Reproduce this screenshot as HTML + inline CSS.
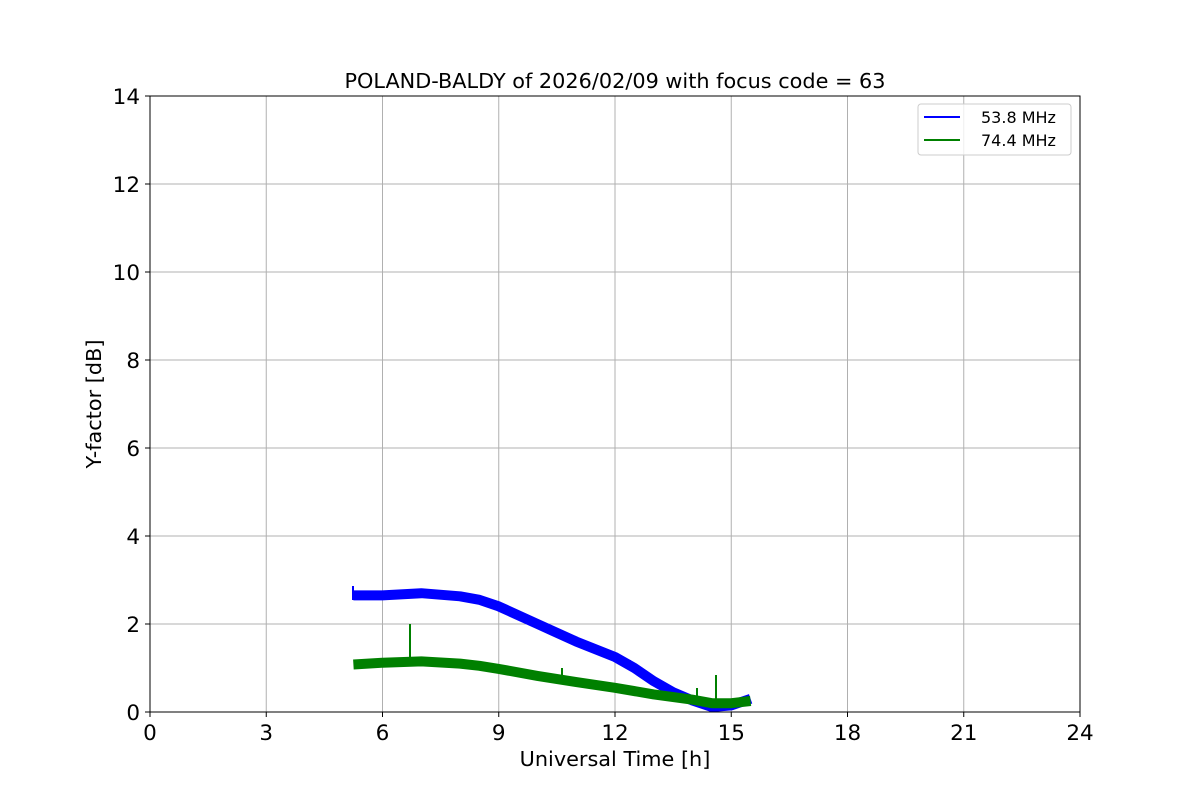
<!DOCTYPE html>
<html><head><meta charset="utf-8"><style>body{margin:0;background:#fff}</style></head><body>
<svg width="1200" height="800" xmlns="http://www.w3.org/2000/svg" font-family="DejaVu Sans, Liberation Sans, sans-serif">
<rect width="1200" height="800" fill="#fff"/>
<g stroke="#b0b0b0" stroke-width="1">
<line x1="266.25" y1="96" x2="266.25" y2="712"/><line x1="382.5" y1="96" x2="382.5" y2="712"/><line x1="498.75" y1="96" x2="498.75" y2="712"/><line x1="615" y1="96" x2="615" y2="712"/><line x1="731.25" y1="96" x2="731.25" y2="712"/><line x1="847.5" y1="96" x2="847.5" y2="712"/><line x1="963.75" y1="96" x2="963.75" y2="712"/>
<line x1="150" y1="624" x2="1080" y2="624"/><line x1="150" y1="536" x2="1080" y2="536"/><line x1="150" y1="448" x2="1080" y2="448"/><line x1="150" y1="360" x2="1080" y2="360"/><line x1="150" y1="272" x2="1080" y2="272"/><line x1="150" y1="184" x2="1080" y2="184"/>
</g>
<g fill="none" stroke-linejoin="round">
<polyline stroke="#0000ff" stroke-width="10" points="353.4,595.4 382.5,595.4 421.3,593.2 460,596.3 479.4,599.8 498.8,606.4 537.5,624 576.3,641.6 615,657 634.4,668 653.8,681.2 673.1,692.2 692.5,700.5 711.9,707 731.3,705.4 750.6,698.8"/>
<line stroke="#0000ff" stroke-width="2" x1="353" y1="586" x2="353" y2="600"/>
<line stroke="#0000ff" stroke-width="2" x1="630" y1="660" x2="630" y2="668"/>
<polyline stroke="#008000" stroke-width="10" points="353.4,664.5 382.5,662.7 421.3,661.4 460,663.6 479.4,665.8 498.8,668.9 537.5,675.9 576.3,682.1 615,687.8 653.8,694.4 692.5,699.7 711.9,703.2 731.3,703.2 750.6,701"/>
<line stroke="#008000" stroke-width="2" x1="410" y1="624" x2="410" y2="662"/>
<line stroke="#008000" stroke-width="2" x1="716" y1="675" x2="716" y2="700"/>
<line stroke="#008000" stroke-width="2" x1="697" y1="688" x2="697" y2="700"/>
<line stroke="#008000" stroke-width="2" x1="562" y1="668" x2="562" y2="680"/>
</g>
<rect x="150" y="96" width="930" height="616" fill="none" stroke="#000" stroke-width="1"/>
<g stroke="#000"><line x1="150" y1="712" x2="150" y2="717"/><line x1="266.25" y1="712" x2="266.25" y2="717"/><line x1="382.5" y1="712" x2="382.5" y2="717"/><line x1="498.75" y1="712" x2="498.75" y2="717"/><line x1="615" y1="712" x2="615" y2="717"/><line x1="731.25" y1="712" x2="731.25" y2="717"/><line x1="847.5" y1="712" x2="847.5" y2="717"/><line x1="963.75" y1="712" x2="963.75" y2="717"/><line x1="1080" y1="712" x2="1080" y2="717"/>
<line x1="145" y1="712" x2="150" y2="712"/><line x1="145" y1="624" x2="150" y2="624"/><line x1="145" y1="536" x2="150" y2="536"/><line x1="145" y1="448" x2="150" y2="448"/><line x1="145" y1="360" x2="150" y2="360"/><line x1="145" y1="272" x2="150" y2="272"/><line x1="145" y1="184" x2="150" y2="184"/><line x1="145" y1="96" x2="150" y2="96"/></g>
<g font-size="21.5" text-anchor="middle"><text x="150" y="740">0</text><text x="266.25" y="740">3</text><text x="382.5" y="740">6</text><text x="498.75" y="740">9</text><text x="615" y="740">12</text><text x="731.25" y="740">15</text><text x="847.5" y="740">18</text><text x="963.75" y="740">21</text><text x="1080" y="740">24</text></g>
<g font-size="21.5" text-anchor="end"><text x="140" y="720">0</text><text x="140" y="632">2</text><text x="140" y="544">4</text><text x="140" y="456">6</text><text x="140" y="368">8</text><text x="140" y="280">10</text><text x="140" y="192">12</text><text x="140" y="104">14</text></g>
<text x="615" y="766" font-size="20.8" text-anchor="middle">Universal Time [h]</text>
<text x="101" y="404" font-size="20.8" text-anchor="middle" transform="rotate(-90 101 404)">Y-factor [dB]</text>
<text x="615" y="88" font-size="20.8" text-anchor="middle">POLAND-BALDY of 2026/02/09 with focus code = 63</text>
<rect x="918" y="104" width="153" height="51" rx="3" fill="#fff" fill-opacity="0.8" stroke="#ccc"/>
<line x1="924" y1="117" x2="960" y2="117" stroke="#0000ff" stroke-width="2"/>
<line x1="924" y1="140" x2="960" y2="140" stroke="#008000" stroke-width="2"/>
<text x="981" y="123" font-size="16">53.8 MHz</text>
<text x="981" y="146" font-size="16">74.4 MHz</text>
</svg>
</body></html>
